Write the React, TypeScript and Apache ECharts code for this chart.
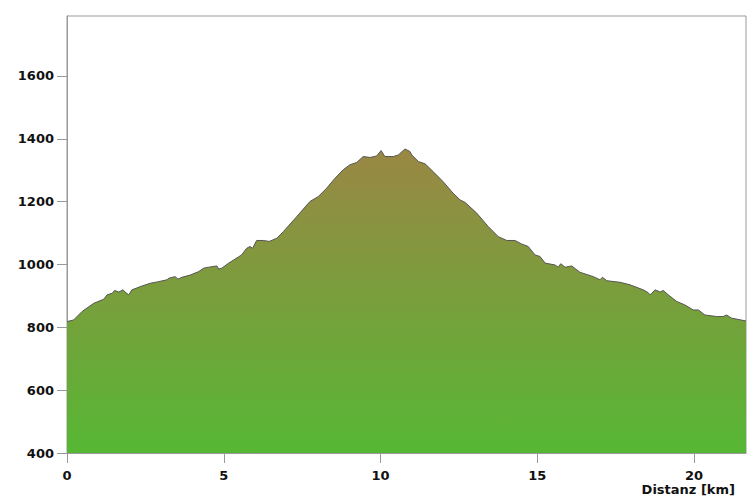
import React, { useEffect, useRef } from "react";
import * as echarts from "echarts";

const distanceKm = [
  0, 0.21, 0.48, 0.85, 1.17, 1.28, 1.44, 1.52, 1.65, 1.79, 1.85, 1.97, 2.07, 2.39, 2.66, 2.92, 3.19, 3.25,
  3.45, 3.54, 3.67, 3.93, 4.2, 4.36, 4.52, 4.78, 4.84, 4.94, 5.16, 5.57, 5.73, 5.84, 5.92, 6.05, 6.26,
  6.45, 6.69, 6.9, 7.33, 7.75, 8.02, 8.28, 8.55, 8.81, 9.03, 9.24, 9.45, 9.67, 9.88, 10.02, 10.14, 10.41,
  10.57, 10.78, 10.94, 11.0, 11.21, 11.42, 11.68, 12.0, 12.32, 12.54, 12.7, 13.07, 13.44, 13.76, 14.03,
  14.29, 14.5, 14.71, 14.93, 15.09, 15.25, 15.57, 15.67, 15.75, 15.89, 16.1, 16.36, 16.79, 17.0, 17.08,
  17.22, 17.64, 17.96, 18.38, 18.54, 18.6, 18.76, 18.92, 19.02, 19.18, 19.45, 19.71, 19.98, 20.14, 20.35,
  20.72, 20.93, 21.04, 21.2, 21.66,
];

const elevationM = [
  818, 823, 850, 876, 889, 903, 908, 917, 912, 919, 912, 903, 919, 931, 940, 945, 951, 956,
  961, 953, 959, 966, 977, 988, 991, 995, 985, 988, 1004, 1030, 1051, 1057, 1051, 1076, 1076,
  1073, 1083, 1104, 1152, 1200, 1216, 1242, 1274, 1301, 1317, 1324, 1343, 1340, 1345, 1362, 1343, 1343,
  1348, 1367, 1359, 1348, 1327, 1320, 1295, 1263, 1226, 1205, 1197, 1163, 1120, 1088, 1076,
  1076, 1065, 1057, 1030, 1025, 1004, 998, 991, 1002, 991, 995, 975, 961, 951, 959,
  948, 943, 935, 919, 910, 903, 919, 912, 917, 903, 882, 871, 855, 855, 839,
  834, 834, 839, 829, 820,
];

const yTicks = [400, 600, 800, 1000, 1200, 1400, 1600];
const xTicks = [0, 5, 10, 15, 20];
const xAxisTitle = "Distanz [km]";

const FONT = "DejaVu Sans";
const X_MIN = 0;
const Y_MIN = 400;
const TICK_LEN = 10;
const AXIS_COLOR = "#999";

export default function App() {
  const ref = useRef<HTMLDivElement>(null);
  useEffect(() => {
    if (!ref.current) return;
    const chart = echarts.init(ref.current, null, { renderer: "svg" });
    const data = distanceKm.map((d, i) => [d, elevationM[i]]);
    const titleGraphic = {
      type: "text",
      right: 21,
      top: 483,
      style: {
        text: xAxisTitle,
        fill: "#111",
        font: `bold 13px "${FONT}"`,
      },
    };
    chart.setOption({
      animation: false,
      grid: {
        left: 67,
        right: 10,
        top: 16,
        bottom: 45,
        show: true,
        borderColor: AXIS_COLOR,
        borderWidth: 1,
        backgroundColor: "transparent",
      },
      xAxis: {
        type: "value",
        min: X_MIN,
        max: 21.66,
        interval: 5,
        axisLine: { show: true, lineStyle: { color: AXIS_COLOR } },
        axisTick: { show: false },
        axisLabel: {
          color: "#111",
          fontWeight: "bold",
          fontFamily: FONT,
          fontSize: 13,
          margin: 16,
          customValues: xTicks,
          formatter: (v: number) => String(v),
        },
        splitLine: { show: false },
      },
      yAxis: {
        type: "value",
        min: Y_MIN,
        max: 1790,
        interval: 200,
        axisLine: { show: true, lineStyle: { color: AXIS_COLOR } },
        axisTick: { show: false },
        axisLabel: {
          color: "#111",
          fontWeight: "bold",
          fontFamily: FONT,
          fontSize: 13,
          margin: 13,
          customValues: yTicks,
          formatter: (v: number) => String(v),
        },
        splitLine: { show: false },
      },
      series: [
        {
          type: "line",
          data,
          symbol: "none",
          smooth: false,
          lineStyle: { color: "#555", width: 1 },
          areaStyle: {
            opacity: 1,
            color: new echarts.graphic.LinearGradient(0, 0, 0, 1, [
              { offset: 0, color: "#9a8744" },
              { offset: 1, color: "#56b734" },
            ]),
          },
        },
      ],
      graphic: [titleGraphic],
    });

    // Tick marks placed through the chart's own scales
    const tickEls: any[] = [];
    yTicks.forEach((v) => {
      const p = chart.convertToPixel({ gridIndex: 0 }, [X_MIN, v]) as number[];
      const y = Math.round(p[1]) + 0.5;
      tickEls.push({
        type: "line",
        z: 100,
        silent: true,
        shape: { x1: p[0] - TICK_LEN, y1: y, x2: p[0], y2: y },
        style: { stroke: AXIS_COLOR, lineWidth: 1 },
      });
    });
    xTicks.forEach((v) => {
      const p = chart.convertToPixel({ gridIndex: 0 }, [v, Y_MIN]) as number[];
      const x = Math.round(p[0]) + 0.5;
      tickEls.push({
        type: "line",
        z: 100,
        silent: true,
        shape: { x1: x, y1: p[1], x2: x, y2: p[1] + TICK_LEN },
        style: { stroke: AXIS_COLOR, lineWidth: 1 },
      });
    });
    chart.setOption({ graphic: [titleGraphic, ...tickEls] }, { replaceMerge: ["graphic"] });

    return () => chart.dispose();
  }, []);
  return (
    <div
      ref={ref}
      style={{ position: "absolute", left: 0, top: 0, width: 756, height: 498 }}
    />
  );
}
